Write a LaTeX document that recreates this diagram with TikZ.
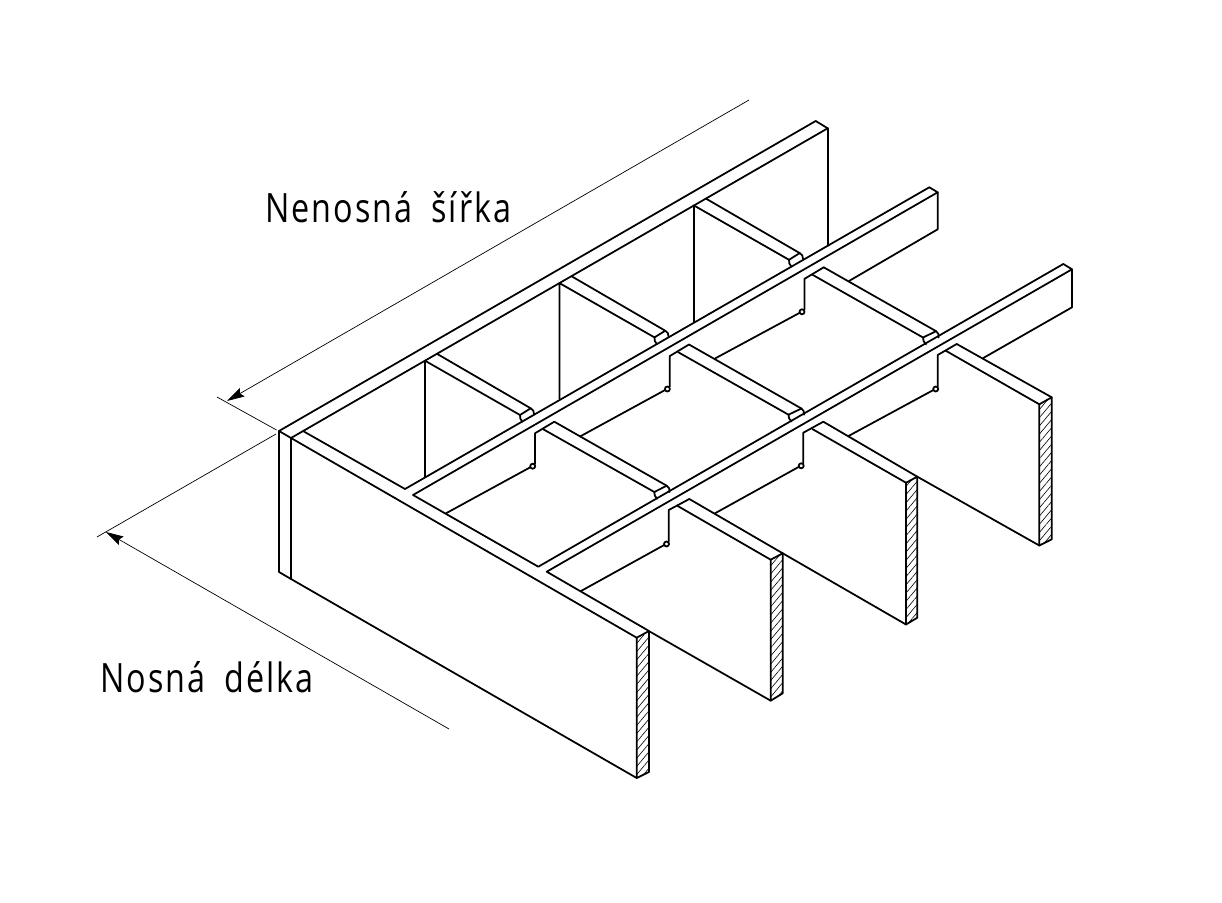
\documentclass[tikz,border=0pt]{standalone}
\usepackage{fontspec}
\setmainfont[FakeStretch=0.8,LetterSpace=5,WordSpace=1.8]{Open Sans}
\usepackage{tikz}
\usetikzlibrary{arrows.meta}
\usetikzlibrary{patterns.meta}

\tikzset{
	edge/.style={line width=1pt, line cap=round, line join=round},
	dim/.style={line width=0.4pt},
	dimarrow/.style={dim, -{Stealth[length=10pt,width=5.5pt,inset=1.5pt]}},
	cut/.style={edge, pattern={Lines[angle=50,distance=3pt,line width=0.35pt]}},
	label/.style={anchor=base west, inner sep=0pt, font=\fontsize{23}{26}\selectfont},
}

\begin{document}
\begin{tikzpicture}[x=0.02cm, y=-0.02cm]
	\useasboundingbox (0, 0) rectangle (1222, 902);
	% dimension lines
	\coordinate (widthend) at (749, 100);
	\coordinate (widthtip) at (227, 401);
	\coordinate (widthext) at (217, 397);
	\coordinate (cornerup) at (276.5, 430);
	\coordinate (cornerdown) at (276, 434);
	\coordinate (lengthext) at (97, 537);
	\coordinate (lengthtip) at (106, 532);
	\coordinate (lengthend) at (449, 729);
	\draw[dimarrow] (widthend) -- (widthtip);
	\draw[dim] (widthext) -- (cornerup);
	\draw[dim] (cornerdown) -- (lengthext);
	\draw[dimarrow] (lengthend) -- (lengthtip);
	\node[label] (widthlabel) at (265, 222) {Nenosná šířka};
	\node[label] (lengthlabel) at (100, 692) {Nosná délka};
	% long bars across
	\draw[edge] (815.7, 121) -- (279, 431) -- (279, 572) -- (291, 579) -- (636.7, 778);
	\draw[edge] (815.7, 121) -- (827.7, 128.3) -- (291, 438) -- (291, 579);
	\draw[edge] (279, 431) -- (291, 438) -- (636.7, 637.7);
	\draw[edge] (827.7, 128.3) -- (827.7, 245.7);
	\draw[edge] (929.3, 187.3) -- (405, 489) -- (303, 431);
	\draw[edge] (929.3, 187.3) -- (937.7, 192.3) -- (413, 495) -- (538.3, 566.7) -- (1063.3, 264);
	\draw[edge] (937.7, 192.3) -- (937.7, 229.3) -- (849, 281);
	\draw[edge] (1063.3, 264) -- (1072, 269.3) -- (546.7, 571.7) -- (649, 631);
	\draw[edge] (1072, 269.3) -- (1072, 307.3) -- (983.3, 358);
	\draw[cut] (636.7, 637.7) -- (649, 631) -- (649, 772) -- (636.7, 778) -- cycle;
	% back row
	\draw[edge] (425, 476.7) -- (425, 360.7) -- (520, 415) -- (530.7, 408.3) -- (437.3, 354);
	\draw[edge] (530.7, 408.3) to[bend left=35] (534, 414);
	\draw[edge] (520, 415) to[bend right=25] (522.3, 421.7);
	\draw[edge] (559.5, 399.1) -- (559.5, 283.1) -- (654.5, 337.4) -- (665.2, 330.7) -- (571.8, 276.4);
	\draw[edge] (665.2, 330.7) to[bend left=35] (668.5, 336.4);
	\draw[edge] (654.5, 337.4) to[bend right=25] (656.8, 344.1);
	\draw[edge] (694, 321.5) -- (694, 205.5) -- (789, 259.8) -- (799.7, 253.1) -- (706.3, 198.8);
	\draw[edge] (799.7, 253.1) to[bend left=35] (803, 258.8);
	\draw[edge] (789, 259.8) to[bend right=25] (791.3, 266.5);
	% middle row
	\draw[edge] (554.3, 421.7) -- (535, 433.3) -- (535, 464);
	\draw[edge] (532.7, 466.2) circle (2.5);
	\draw[edge] (530.4, 467.2) -- (446, 513.3);
	\draw[edge] (554.3, 421.7) -- (666.7, 485.7);
	\draw[edge] (543.3, 429.3) -- (654.3, 492) -- (666.7, 485.7);
	\draw[edge] (666.7, 485.7) to[bend left=35] (669.5, 492);
	\draw[edge] (654.3, 492) to[bend right=25] (657, 498.7);
	\draw[edge] (689, 344.5) -- (669.7, 356.1) -- (669.7, 386.8);
	\draw[edge] (667.4, 389) circle (2.5);
	\draw[edge] (665.1, 390) -- (580, 436.5);
	\draw[edge] (689, 344.5) -- (801.4, 408.5);
	\draw[edge] (678, 352.1) -- (788.5, 414.7) -- (801.4, 408.5);
	\draw[edge] (801.4, 408.5) to[bend left=35] (804, 414.7);
	\draw[edge] (788.5, 414.7) to[bend right=25] (791.5, 421.5);
	\draw[edge] (823.7, 267.3) -- (804.4, 278.9) -- (804.4, 309.6);
	\draw[edge] (802, 311.8) circle (2.5);
	\draw[edge] (799.7, 312.8) -- (715, 358.5);
	\draw[edge] (823.7, 267.3) -- (936.1, 331.2);
	\draw[edge] (812.7, 274.9) -- (923, 337.5) -- (936.1, 331.2);
	\draw[edge] (936.1, 331.2) to[bend left=35] (938.5, 337.5);
	\draw[edge] (923, 337.5) to[bend right=25] (926, 344.3);
	% front row
	\draw[edge] (689.3, 499) -- (668.7, 510) -- (668.7, 541.7);
	\draw[edge] (666.5, 544) circle (2.5);
	\draw[edge] (664.2, 545) -- (581, 591);
	\draw[edge] (689.3, 499) -- (782.7, 553.3);
	\draw[edge] (677.7, 506) -- (770.7, 559.7);
	\draw[edge] (770.7, 700.7) -- (650, 631.7);
	\draw[cut] (770.7, 559.7) -- (782.7, 553.3) -- (782.7, 693.3) -- (770.7, 700.7) -- cycle;
	\draw[edge] (823.3, 421.7) -- (803.3, 432.7) -- (803.3, 463.5);
	\draw[edge] (801.2, 465.8) circle (2.5);
	\draw[edge] (798.9, 466.8) -- (715, 513.3);
	\draw[edge] (823.3, 421.7) -- (917.3, 476.7);
	\draw[edge] (812.3, 429) -- (906, 482.7);
	\draw[edge] (906, 624.5) -- (782.7, 553.3);
	\draw[cut] (906, 482.7) -- (917.3, 476.7) -- (917.3, 617.7) -- (906, 624.5) -- cycle;
	\draw[edge] (956.7, 344) -- (937.7, 355) -- (937.7, 386.7);
	\draw[edge] (935.7, 389) circle (2.5);
	\draw[edge] (933.4, 390) -- (848.5, 436);
	\draw[edge] (956.7, 344) -- (1051.7, 397.3);
	\draw[edge] (945.7, 350.7) -- (1039.3, 404.3);
	\draw[edge] (1039.3, 545.5) -- (917.3, 476.7);
	\draw[cut] (1039.3, 404.3) -- (1051.7, 397.3) -- (1051.7, 539.3) -- (1039.3, 545.5) -- cycle;
\end{tikzpicture}
\end{document}
